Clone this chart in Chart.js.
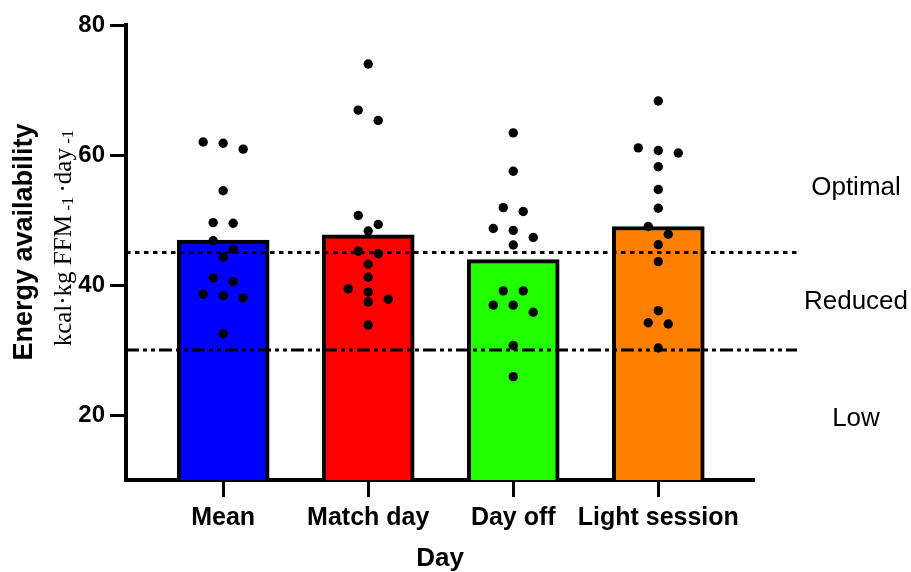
<!DOCTYPE html>
<html>
<head>
<meta charset="utf-8">
<script src="https://cdn.jsdelivr.net/npm/chart.js@4.4.1/dist/chart.umd.min.js"></script>
<style>
  html, body { margin: 0; padding: 0; background: #fff; }
  #wrap { width: 911px; height: 572px; position: relative; }
</style>
</head>
<body>
<div id="wrap"><canvas id="eaChart"></canvas></div>
<script>
const days = ["Mean", "Match day", "Day off", "Light session"];
const barValues = [46.9, 47.7, 43.9, 49.0];

// individual players, kcal per kg FFM per day
const meanDots = [62.0, 61.8, 60.9, 54.5, 49.6, 49.5, 46.8, 45.5, 44.3, 41.1, 40.5, 38.6, 38.35, 38.0, 32.5];
const matchDots = [74.0, 66.9, 65.3, 50.7, 49.3, 48.3, 45.2, 44.8, 43.2, 41.2, 39.4, 38.9, 37.8, 37.4, 33.85];
const offDots = [63.4, 57.5, 51.9, 51.3, 48.7, 48.4, 47.3, 46.15, 39.1, 39.1, 36.9, 36.9, 35.8, 30.7, 25.9];
const lightDots = [68.3, 61.1, 60.7, 60.3, 58.2, 54.7, 51.8, 49.0, 47.8, 46.2, 43.6, 36.05, 34.2, 34.0, 30.3];
const allDots = [meanDots, matchDots, offDots, lightDots];

const yTicks = [20, 40, 60, 80];
const cutoffs = [45, 30];          // optimal / reduced, reduced / low
const zoneNames = ["Optimal", "Reduced", "Low"];
const zoneAt = [55.0, 37.4, 19.4]; // where each zone name sits on the y scale

const SANS = '"Liberation Sans", Arial, sans-serif';
const SERIF = '"Liberation Serif", "Times New Roman", serif';

// dots that land within one dot height go into the same row and are centred
function swarm(values, idx, xs, ys) {
  const unit = xs.getPixelForValue(1) - xs.getPixelForValue(0);
  const sorted = values.slice().sort((a, b) => b - a);
  const out = [];
  let row = [];
  const flush = () => {
    row.forEach((v, j) => {
      const off = (j - (row.length - 1) / 2) * 20;
      out.push({ x: idx + off / unit, y: v });
    });
    row = [];
  };
  sorted.forEach(v => {
    if (row.length && ys.getPixelForValue(v) - ys.getPixelForValue(row[0]) >= 11) flush();
    row.push(v);
  });
  flush();
  return out;
}

const extras = {
  id: "extras",
  afterDatasetDraw(chart, args) {
    if (args.meta.type !== "bar") return;
    const ctx = chart.ctx, a = chart.chartArea, y = chart.scales.y;
    ctx.save();
    ctx.strokeStyle = "#000";
    ctx.lineWidth = 3;
    const dashes = [[4.5, 4.5], [13, 4, 4, 4, 4, 4]];
    cutoffs.forEach((c, i) => {
      const py = y.getPixelForValue(c);
      ctx.setLineDash(dashes[i]);
      ctx.beginPath();
      ctx.moveTo(a.left, py);
      ctx.lineTo(797, py);
      ctx.stroke();
    });
    ctx.restore();
  },
  afterDraw(chart) {
    const ctx = chart.ctx, a = chart.chartArea, y = chart.scales.y;
    ctx.save();
    ctx.fillStyle = "#000";

    // zone names on the right
    ctx.font = "26px " + SANS;
    ctx.textAlign = "center";
    ctx.textBaseline = "middle";
    zoneNames.forEach((n, i) => ctx.fillText(n, 856, y.getPixelForValue(zoneAt[i])));

    // x title
    ctx.font = "bold 26px " + SANS;
    ctx.textBaseline = "alphabetic";
    ctx.fillText("Day", (a.left + a.right) / 2, 566);

    // y title, two lines
    ctx.save();
    ctx.translate(32, 242);
    ctx.rotate(-Math.PI / 2);
    ctx.font = "bold 27px " + SANS;
    ctx.fillText("Energy availability", 0, 0);
    ctx.restore();

    const parts = [
      { t: "kcal·kg FFM", f: "25px " + SERIF, dy: 0 },
      { t: " -1 ", f: "17px " + SERIF, dy: 2 },
      { t: "·day", f: "25px " + SERIF, dy: 0 },
      { t: " -1", f: "17px " + SERIF, dy: 2 }
    ];
    ctx.save();
    ctx.translate(71, 238);
    ctx.rotate(-Math.PI / 2);
    ctx.textAlign = "left";
    let total = 0;
    parts.forEach(p => { ctx.font = p.f; p.w = ctx.measureText(p.t).width; total += p.w; });
    let x = -total / 2;
    parts.forEach(p => { ctx.font = p.f; ctx.fillText(p.t, x, p.dy); x += p.w; });
    ctx.restore();

    ctx.restore();
  }
};

const chart = new Chart(document.getElementById("eaChart"), {
  type: "bar",
  data: {
    datasets: [
      {
        type: "bar",
        data: barValues.map((v, i) => ({ x: i, y: v })),
        backgroundColor: ["#0000ff", "#ff0000", "#22ff00", "#ff8000"],
        borderColor: "#000",
        borderWidth: 4,
        barThickness: 92,
        order: 2
      },
      {
        type: "scatter",
        data: [],
        pointRadius: 4.7,
        pointBackgroundColor: "#000",
        pointBorderWidth: 0,
        order: 1
      }
    ]
  },
  options: {
    responsive: true,
    maintainAspectRatio: false,
    animation: false,
    layout: { padding: { top: 25, right: 157, left: 0, bottom: 0 } },
    plugins: { legend: { display: false }, tooltip: { enabled: false } },
    scales: {
      x: {
        type: "linear",
        min: -0.67,
        max: 3.66,
        offset: false,
        afterBuildTicks: s => { s.ticks = days.map((d, i) => ({ value: i })); },
        afterFit: s => { s.height = 92; },
        grid: { offset: false, drawOnChartArea: false, drawTicks: true, tickLength: 17, tickWidth: 3, tickColor: "#000" },
        border: { display: true, color: "#000", width: 4 },
        ticks: {
          color: "#000",
          padding: 6,
          autoSkip: false,
          maxRotation: 0,
          font: { family: SANS, size: 25, weight: "bold" },
          callback: v => days[v]
        }
      },
      y: {
        min: 10,
        max: 80,
        afterBuildTicks: s => { s.ticks = yTicks.map(v => ({ value: v })); },
        afterFit: s => { s.width = 126; },
        grid: { drawOnChartArea: false, drawTicks: true, tickLength: 16, tickWidth: 3, tickColor: "#000" },
        border: { display: true, color: "#000", width: 4 },
        ticks: {
          color: "#000",
          padding: 5,
          font: { family: SANS, size: 24, weight: "bold" }
        }
      }
    }
  },
  plugins: [extras]
});

// spread the dots sideways once the scales know their pixel sizes
chart.data.datasets[1].data = allDots.flatMap((vals, i) => swarm(vals, i, chart.scales.x, chart.scales.y));
chart.update();
</script>
</body>
</html>
